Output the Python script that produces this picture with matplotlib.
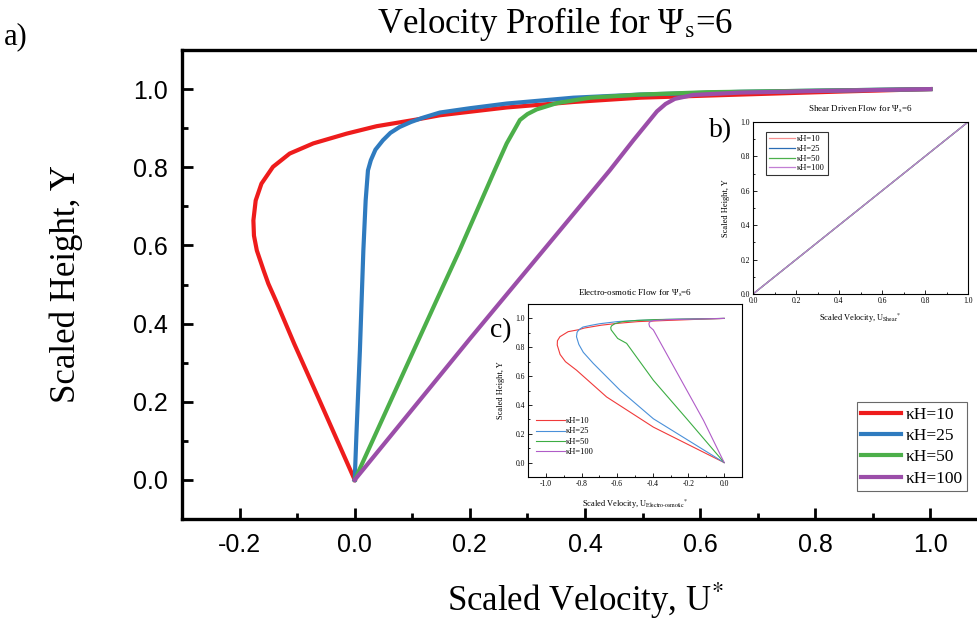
import numpy as np
import matplotlib
matplotlib.use('Agg')
import matplotlib.pyplot as plt
from matplotlib.ticker import MultipleLocator

plt.rcParams['font.family'] = 'Liberation Serif'
plt.rcParams['mathtext.fontset'] = 'stix'
plt.rcParams['axes.unicode_minus'] = False

labels = ['κH=10', 'κH=25', 'κH=50', 'κH=100']
colors = ['#ee1c1c', '#2f7bbf', '#4caf4a', '#9b4ea9']

# main plot: total velocity profile
red_u = [0.0, -0.061, -0.105, -0.137, -0.150, -0.158, -0.170, -0.175, -0.176, -0.172, -0.162, -0.142,
         -0.113, -0.072, -0.014, 0.038, 0.107, 0.148, 0.200, 0.264, 0.380, 0.496, 0.670, 0.850, 1.0]
red_y = [0.0, 0.203, 0.348, 0.459, 0.502, 0.535, 0.587, 0.625, 0.664, 0.715, 0.758, 0.801,
         0.835, 0.861, 0.886, 0.905, 0.922, 0.933, 0.942, 0.953, 0.967, 0.978, 0.986, 0.994, 1.0]
blue_u = [0.0, 0.003, 0.009, 0.012, 0.015, 0.019, 0.023, 0.028, 0.036, 0.049, 0.062, 0.078, 0.098,
          0.119, 0.148, 0.200, 0.264, 0.380, 0.496, 0.670, 0.850, 1.0]
blue_y = [0.0, 0.117, 0.331, 0.459, 0.587, 0.715, 0.792, 0.818, 0.845, 0.869, 0.888, 0.903, 0.916,
          0.927, 0.940, 0.951, 0.963, 0.978, 0.986, 0.993, 0.997, 1.0]
green_u = [0.0, 0.089, 0.142, 0.182, 0.243, 0.264, 0.287, 0.300, 0.316, 0.351, 0.409, 0.496, 0.612, 0.800, 1.0]
green_y = [0.0, 0.288, 0.459, 0.587, 0.792, 0.861, 0.921, 0.936, 0.948, 0.964, 0.978, 0.986, 0.992, 0.996, 1.0]
purple_u = [0.0, 0.200, 0.443, 0.484, 0.525, 0.540, 0.556, 0.588, 0.670, 0.800, 1.0]
purple_y = [0.0, 0.361, 0.792, 0.869, 0.943, 0.962, 0.975, 0.985, 0.991, 0.995, 1.0]

# inset b: shear driven flow
shear_u = [0.0, 1.0]
shear_y = [0.0, 1.0]

# inset c: electro-osmotic flow
red_eo_u = [0.0, -0.397, -0.659, -0.828, -0.890, -0.920, -0.936, -0.935, -0.921, -0.875, -0.815,
            -0.785, -0.742, -0.689, -0.587, -0.482, -0.316, -0.144, 0.0]
red_eo_y = [0.0, 0.246, 0.455, 0.641, 0.700, 0.750, 0.815, 0.845, 0.873, 0.908, 0.922,
            0.933, 0.942, 0.953, 0.967, 0.978, 0.986, 0.994, 1.0]
blue_eo_u = [0.0, -0.397, -0.584, -0.734, -0.790, -0.815, -0.828, -0.825, -0.818, -0.808, -0.792,
             -0.751, -0.699, -0.598, -0.490, -0.323, -0.147, 0.0]
blue_eo_y = [0.0, 0.304, 0.502, 0.688, 0.765, 0.820, 0.873, 0.903, 0.916, 0.927, 0.940,
             0.951, 0.963, 0.978, 0.986, 0.993, 0.997, 1.0]
green_eo_u = [0.0, -0.210, -0.397, -0.547, -0.597, -0.634, -0.636, -0.632, -0.613, -0.569, -0.490,
              -0.380, -0.196, 0.0]
green_eo_y = [0.0, 0.304, 0.571, 0.827, 0.861, 0.921, 0.936, 0.948, 0.964, 0.978, 0.986,
              0.992, 0.996, 1.0]
purple_eo_u = [0.0, -0.116, -0.397, -0.418, -0.422, -0.419, -0.397, -0.321, -0.195, 0.0]
purple_eo_y = [0.0, 0.293, 0.920, 0.943, 0.962, 0.975, 0.985, 0.991, 0.995, 1.0]

W, H = 977, 623
fig = plt.figure(figsize=(W / 100, H / 100), dpi=100)


def px_axes(left, right, top, bottom):
    return fig.add_axes([left / W, 1 - bottom / H, (right - left) / W, (bottom - top) / H])


# ---- main axes ----
ax = px_axes(182, 988, 50, 519)
main = [(red_u, red_y), (blue_u, blue_y), (green_u, green_y), (purple_u, purple_y)]
for (u, y), c, lab in zip(main, colors, labels):
    ax.plot(u, y, color=c, lw=3, label=lab, solid_joinstyle='round')
ax.set_xlim(-0.3, 1.1)
ax.set_ylim(-0.1, 1.1)
ax.xaxis.set_major_locator(MultipleLocator(0.2))
ax.xaxis.set_minor_locator(MultipleLocator(0.1))
ax.yaxis.set_major_locator(MultipleLocator(0.2))
ax.yaxis.set_minor_locator(MultipleLocator(0.1))
ax.tick_params(which='both', direction='in', width=2.0)
ax.tick_params(which='major', length=8)
ax.tick_params(which='minor', length=4.5)
ax.tick_params(axis='both', labelsize=18, pad=10)
for t in ax.get_xticklabels() + ax.get_yticklabels():
    t.set_fontfamily('Liberation Sans')
for s in ax.spines.values():
    s.set_linewidth(2.4)
ax.set_xlabel('Scaled Velocity, U$^{*}$', fontsize=25, labelpad=17)
ax.set_ylabel('Scaled Height, Y', fontsize=25, labelpad=36)

fig.text(555 / W, 1 - 24 / H, 'Velocity Profile for Ψ$_{\\mathrm{s}}$=6', fontsize=25,
         ha='center', va='center')
fig.text(16 / W, 1 - 37 / H, 'a)', fontsize=22, ha='center', va='center')

leg = ax.legend(loc='lower right', bbox_to_anchor=(967 / W, 1 - 491 / H),
                bbox_transform=fig.transFigure, fontsize=12.5, frameon=True,
                fancybox=False, edgecolor='#444444', handlelength=2.3,
                handletextpad=0.25, labelspacing=0.3, borderpad=0.25, borderaxespad=0)
leg.get_frame().set_linewidth(0.8)


def style_inset(a):
    a.tick_params(which='both', direction='in', labelsize=5.5, width=0.6, pad=2)
    a.tick_params(which='major', length=3)
    a.tick_params(which='minor', length=1.5)
    for s in a.spines.values():
        s.set_linewidth(0.8)


# ---- inset b ----
axb = px_axes(753, 968, 122, 294)
for c, lab in zip(['#f59090', '#2a6db5', '#4cb04c', '#c27fd4'], labels):
    axb.plot(shear_u, shear_y, color=c, lw=0.9, label=lab)
axb.set_xlim(0, 1)
axb.set_ylim(0, 1)
axb.xaxis.set_major_locator(MultipleLocator(0.2))
axb.xaxis.set_minor_locator(MultipleLocator(0.1))
axb.yaxis.set_major_locator(MultipleLocator(0.2))
axb.yaxis.set_minor_locator(MultipleLocator(0.1))
style_inset(axb)
axb.set_title('Shear Driven Flow for Ψ$_{\\mathrm{s}}$=6', fontsize=6.5, pad=7)
axb.set_xlabel('Scaled Velocity, U$_{\\mathrm{Shear}}$$^{*}$', fontsize=6, labelpad=5)
axb.set_ylabel('Scaled Height, Y', fontsize=6, labelpad=8)
lb = axb.legend(loc='upper left', bbox_to_anchor=(0.06, 0.94), fontsize=6, fancybox=False,
                edgecolor='black', handlelength=3.2, labelspacing=0.2, borderpad=0.35,
                handletextpad=0.2, borderaxespad=0)
lb.get_frame().set_linewidth(0.8)
fig.text(721 / W, 1 - 131 / H, 'b)', fontsize=20, ha='center', va='center')

# ---- inset c ----
axc = px_axes(528, 742, 304, 477)
eo = [(red_eo_u, red_eo_y), (blue_eo_u, blue_eo_y), (green_eo_u, green_eo_y), (purple_eo_u, purple_eo_y)]
for (u, y), c, lab in zip(eo, ['#f03a3a', '#4a90d9', '#3cad43', '#b05cc8'], labels):
    axc.plot(u, y, color=c, lw=0.8, label=lab)
axc.set_xlim(-1.1, 0.1)
axc.set_ylim(-0.1, 1.1)
axc.xaxis.set_major_locator(MultipleLocator(0.2))
axc.xaxis.set_minor_locator(MultipleLocator(0.1))
axc.yaxis.set_major_locator(MultipleLocator(0.2))
axc.yaxis.set_minor_locator(MultipleLocator(0.1))
style_inset(axc)
axc.set_title('Electro-osmotic Flow for Ψ$_{\\mathrm{s}}$=6', fontsize=6.5, pad=6)
axc.set_xlabel('Scaled Velocity, U$_{\\mathrm{Electro\\text{-}osmotic}}$$^{*}$', fontsize=6, labelpad=7)
axc.set_ylabel('Scaled Height, Y', fontsize=6, labelpad=8)
axc.legend(loc='lower left', bbox_to_anchor=(0.0, 0.08), fontsize=6, frameon=False,
           handlelength=3.5, labelspacing=0.25, handletextpad=0.2)
fig.text(501 / W, 1 - 331 / H, 'c)', fontsize=20, ha='center', va='center')

fig.savefig('out.png', dpi=100)
